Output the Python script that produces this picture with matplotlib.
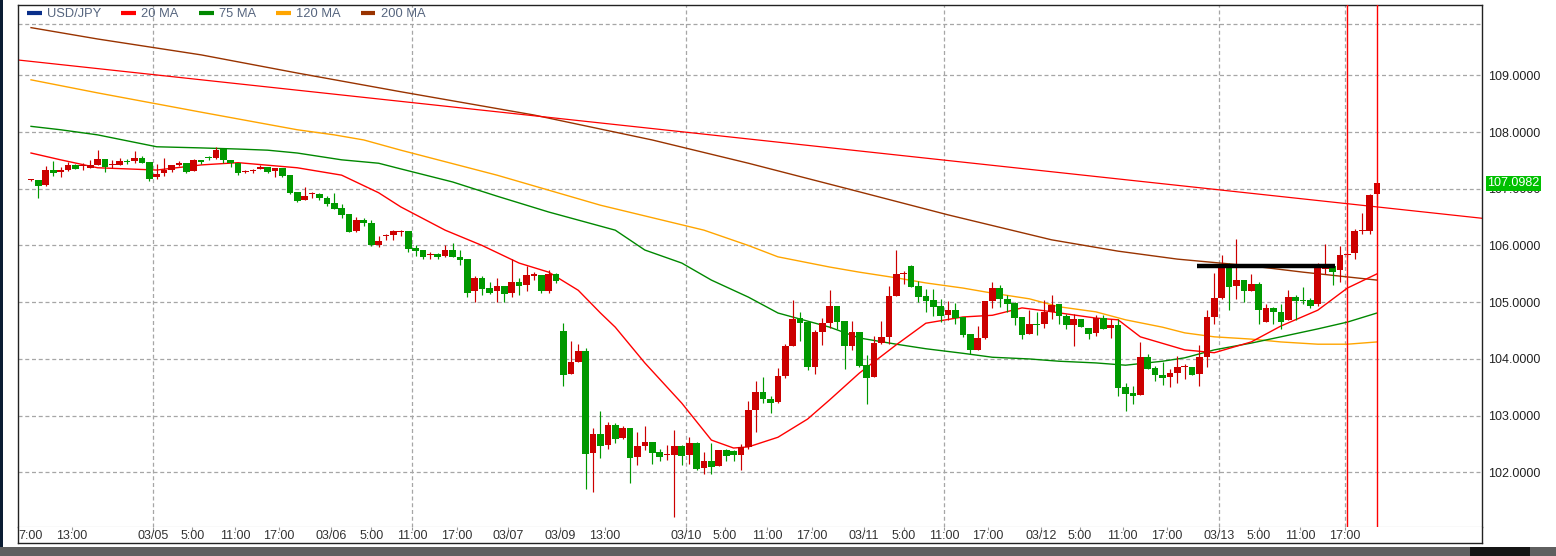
import numpy as np
import matplotlib
matplotlib.use("Agg")
import matplotlib.pyplot as plt
from matplotlib.lines import Line2D
from matplotlib.patches import Rectangle
import matplotlib.transforms as mtransforms

plt.rcParams['font.family'] = ['Liberation Sans', 'DejaVu Sans']

# hourly USD/JPY candles, index 0 = 03/04 7:00
opens = [107.15, 107.15, 107.07, 107.33, 107.30, 107.33, 107.42, 107.40, 107.37, 107.42,
         107.53, 107.41, 107.42, 107.49, 107.49, 107.54, 107.47, 107.20, 107.27, 107.33,
         107.42, 107.46, 107.32, 107.50, 107.545, 107.55, 107.70, 107.51, 107.45, 107.30,
         107.32, 107.34, 107.38, 107.32, 107.37, 107.24, 106.94, 106.81, 106.91, 106.91,
         106.83, 106.75, 106.66, 106.56, 106.26, 106.45, 106.40, 106.01, 106.17, 106.19,
         106.24, 106.26, 105.96, 105.92, 105.84, 105.85, 105.81, 105.92, 105.79, 105.76,
         105.19, 105.43, 105.25, 105.19, 105.29, 105.17, 105.36, 105.30, 105.47, 105.48,
         105.20, 105.50, 104.49, 103.74, 103.94, 104.14, 102.34, 102.68, 102.48, 102.84,
         102.60, 102.78, 102.27, 102.47, 102.54, 102.36, 102.30, 102.31, 102.47, 102.31,
         102.52, 102.08, 102.20, 102.11, 102.40, 102.38, 102.31, 102.44, 103.10, 103.42,
         103.30, 103.24, 103.70, 104.23, 104.72, 104.65, 103.86, 104.48, 104.64, 104.93,
         104.67, 104.23, 104.48, 103.89, 103.69, 104.28, 104.39, 105.11, 105.50, 105.64,
         105.29, 105.11, 105.04, 104.93, 104.78, 104.86, 104.74, 104.44, 104.16, 104.37,
         105.02, 105.25, 105.05, 104.99, 104.74, 104.44, 104.62, 104.62, 104.82, 104.96,
         104.76, 104.60, 104.70, 104.55, 104.46, 104.73, 104.55, 104.59, 103.51, 103.40,
         103.37, 104.03, 103.84, 103.72, 103.68, 103.76, 103.85, 103.86, 103.74, 104.03,
         104.74, 105.08, 105.67, 105.29, 105.39, 105.20, 105.32, 104.66, 104.90, 104.83,
         104.68, 105.09, 105.04, 105.04, 104.96, 105.59, 105.63, 105.56, 105.84, 105.86,
         106.25, 106.26, 106.90]
highs = [107.18, 107.15, 107.40, 107.49, 107.38, 107.48, 107.43, 107.45, 107.51, 107.68,
         107.53, 107.51, 107.54, 107.53, 107.67, 107.57, 107.47, 107.44, 107.54, 107.42,
         107.49, 107.46, 107.52, 107.50, 107.58, 107.73, 107.70, 107.51, 107.45, 107.33,
         107.35, 107.42, 107.38, 107.37, 107.37, 107.24, 106.95, 107.03, 106.94, 106.93,
         106.87, 106.93, 106.74, 106.56, 106.50, 106.48, 106.45, 106.17, 106.20, 106.28,
         106.27, 106.26, 106.01, 105.92, 105.88, 105.86, 106.00, 106.04, 105.92, 105.76,
         105.46, 105.46, 105.35, 105.43, 105.29, 105.76, 105.43, 105.64, 105.54, 105.48,
         105.56, 105.51, 104.63, 104.32, 104.26, 104.19, 102.78, 103.08, 102.89, 102.87,
         102.82, 102.78, 102.71, 102.82, 102.54, 102.41, 102.48, 102.75, 102.48, 102.62,
         102.54, 102.36, 102.52, 102.40, 102.41, 102.40, 102.50, 103.26, 103.61, 103.68,
         103.34, 103.84, 104.26, 105.04, 104.82, 104.65, 104.51, 104.73, 105.22, 104.93,
         104.67, 104.67, 104.48, 104.07, 104.40, 104.67, 105.29, 105.92, 105.55, 105.66,
         105.37, 105.23, 105.23, 105.05, 105.02, 104.99, 104.74, 104.44, 104.58, 105.02,
         105.35, 105.30, 105.13, 105.00, 104.74, 104.86, 104.82, 105.04, 105.13, 104.96,
         104.80, 104.80, 104.70, 104.55, 104.78, 104.78, 104.70, 104.70, 103.57, 103.52,
         104.30, 104.09, 103.88, 103.95, 103.82, 104.05, 103.91, 103.86, 104.25, 104.86,
         105.51, 105.84, 105.70, 106.12, 105.39, 105.50, 105.36, 104.96, 104.92, 104.96,
         105.22, 105.13, 105.27, 105.07, 105.69, 106.03, 105.66, 105.99, 105.86, 106.29,
         106.57, 106.91, 107.11]
lows = [107.13, 106.84, 107.04, 107.23, 107.20, 107.32, 107.34, 107.33, 107.37, 107.42,
        107.30, 107.37, 107.42, 107.44, 107.45, 107.45, 107.14, 107.17, 107.23, 107.30,
        107.40, 107.28, 107.32, 107.44, 107.51, 107.52, 107.45, 107.38, 107.24, 107.28,
        107.28, 107.34, 107.27, 107.20, 107.21, 106.90, 106.77, 106.81, 106.83, 106.81,
        106.70, 106.64, 106.49, 106.23, 106.23, 106.35, 105.99, 105.98, 106.09, 106.09,
        106.16, 105.89, 105.82, 105.77, 105.77, 105.76, 105.80, 105.79, 105.66, 105.10,
        105.00, 105.12, 105.15, 105.00, 105.00, 105.10, 105.13, 105.20, 105.39, 105.17,
        105.17, 105.34, 103.53, 103.74, 103.94, 101.71, 101.66, 102.26, 102.41, 102.52,
        102.59, 101.81, 102.13, 102.40, 102.15, 102.20, 102.22, 101.21, 102.13, 102.15,
        102.04, 101.98, 101.98, 102.11, 102.20, 102.20, 102.04, 102.42, 102.71, 103.22,
        103.05, 103.22, 103.66, 104.22, 104.31, 103.81, 103.74, 104.25, 104.54, 104.52,
        103.83, 104.16, 103.86, 103.21, 103.69, 104.26, 104.26, 105.11, 105.32, 105.27,
        105.01, 104.82, 104.76, 104.66, 104.69, 104.62, 104.38, 104.09, 104.16, 104.36,
        104.89, 104.92, 104.83, 104.60, 104.36, 104.44, 104.42, 104.55, 104.71, 104.62,
        104.52, 104.23, 104.57, 104.36, 104.41, 104.53, 104.37, 103.34, 103.09, 103.21,
        103.37, 103.83, 103.61, 103.54, 103.51, 103.58, 103.65, 103.71, 103.53, 103.86,
        104.62, 105.05, 104.87, 105.05, 105.01, 105.20, 104.62, 104.66, 104.62, 104.52,
        104.68, 104.68, 104.96, 104.89, 104.94, 105.50, 105.31, 105.35, 105.80, 105.77,
        106.21, 106.21, 106.74]
closes = [107.16, 107.05, 107.33, 107.28, 107.33, 107.42, 107.35, 107.41, 107.42, 107.53,
          107.38, 107.42, 107.49, 107.48, 107.54, 107.46, 107.18, 107.26, 107.33, 107.42,
          107.46, 107.30, 107.51, 107.47, 107.535, 107.68, 107.50, 107.45, 107.28, 107.31,
          107.33, 107.38, 107.30, 107.37, 107.23, 106.93, 106.79, 106.88, 106.93, 106.83,
          106.74, 106.64, 106.54, 106.24, 106.45, 106.39, 106.00, 106.08, 106.18, 106.25,
          106.25, 105.94, 105.91, 105.80, 105.85, 105.80, 105.92, 105.79, 105.74, 105.17,
          105.43, 105.24, 105.17, 105.29, 105.15, 105.36, 105.29, 105.48, 105.49, 105.19,
          105.50, 105.38, 103.72, 103.95, 104.14, 102.33, 102.68, 102.47, 102.84, 102.59,
          102.78, 102.25, 102.47, 102.54, 102.34, 102.27, 102.31, 102.47, 102.29, 102.52,
          102.06, 102.20, 102.10, 102.40, 102.29, 102.30, 102.44, 103.10, 103.42, 103.29,
          103.23, 103.70, 104.23, 104.70, 104.63, 103.85, 104.48, 104.63, 104.93, 104.66,
          104.22, 104.48, 103.88, 103.67, 104.28, 104.39, 105.11, 105.50, 105.51, 105.27,
          105.10, 105.03, 104.92, 104.76, 104.86, 104.73, 104.43, 104.15, 104.37, 105.02,
          105.25, 105.05, 104.97, 104.73, 104.42, 104.62, 104.60, 104.83, 104.95, 104.75,
          104.59, 104.70, 104.57, 104.44, 104.73, 104.53, 104.59, 103.49, 103.38, 103.35,
          104.03, 103.83, 103.71, 103.67, 103.75, 103.86, 103.86, 103.72, 104.03, 104.74,
          105.07, 105.66, 105.27, 105.39, 105.19, 105.32, 104.87, 104.90, 104.82, 104.66,
          105.09, 105.03, 105.03, 104.94, 105.60, 105.61, 105.54, 105.83, 105.85, 106.26,
          106.26, 106.89, 107.0982]

# moving averages read at sample candles
ma20_x = [0, 4, 9, 17, 23, 28, 36, 42, 47, 50, 56, 61, 66, 70, 74, 77, 79, 83, 88, 92, 95,
          97, 101, 105, 108, 112, 117, 121, 126, 130, 134, 137, 144, 147, 150, 156, 160,
          165, 169, 174, 178, 182]
ma20_y = [107.63, 107.51, 107.37, 107.33, 107.42, 107.46, 107.37, 107.24, 106.93, 106.68,
          106.27, 106.00, 105.69, 105.53, 105.21, 104.81, 104.56, 103.93, 103.22, 102.57,
          102.43, 102.45, 102.62, 102.94, 103.28, 103.75, 104.25, 104.63, 104.74, 104.77,
          104.90, 104.85, 104.72, 104.69, 104.39, 104.16, 104.11, 104.30, 104.58, 104.86,
          105.25, 105.50]
ma75_x = [0, 4, 9, 17, 23, 28, 32, 36, 42, 47, 50, 57, 63, 70, 79, 83, 88, 92, 97, 101,
          108, 112, 117, 121, 126, 130, 135, 139, 144, 148, 153, 156, 160, 165, 169, 174,
          178, 182]
ma75_y = [108.10, 108.04, 107.95, 107.74, 107.72, 107.70, 107.68, 107.63, 107.51, 107.45,
          107.35, 107.12, 106.87, 106.59, 106.27, 105.92, 105.69, 105.39, 105.09, 104.81,
          104.56, 104.37, 104.26, 104.18, 104.10, 104.03, 104.00, 103.96, 103.93, 103.89,
          103.96, 104.02, 104.16, 104.28, 104.39, 104.53, 104.65, 104.81]
ma120_x = [0, 9, 23, 36, 41, 45, 50, 63, 77, 91, 97, 101, 108, 112, 117, 121, 126, 130,
           135, 139, 144, 148, 153, 156, 160, 165, 169, 174, 178, 182]
ma120_y = [108.92, 108.69, 108.35, 108.04, 107.95, 107.86, 107.68, 107.24, 106.71, 106.27,
           106.00, 105.80, 105.62, 105.53, 105.43, 105.34, 105.25, 105.16, 105.06, 104.92,
           104.83, 104.69, 104.56, 104.46, 104.39, 104.35, 104.30, 104.26, 104.26, 104.30]
ma200_x = [0, 9, 23, 36, 50, 68, 84, 97, 111, 124, 138, 147, 155, 165, 172, 182]
ma200_y = [109.84, 109.64, 109.36, 109.04, 108.71, 108.30, 107.86, 107.45, 106.98, 106.54,
           106.10, 105.90, 105.76, 105.64, 105.53, 105.39]

# drawn objects
trend_pts = [(0, 109.245), (182, 106.68)]
resist_level = 105.63
resist_span = (157.7, 176.3)
marker_lines = [178, 182]
last_price = 107.0982

# x axis labels (candle positions)
tick_pos = [0, 5.5, 16.5, 21.8, 27.6, 33.5, 40.6, 46.0, 51.5, 57.6, 64.5, 71.5, 77.6,
            88.6, 93.8, 99.5, 105.6, 112.6, 118.0, 123.5, 129.4, 136.6, 141.8, 147.6,
            153.6, 160.6, 166.0, 171.6, 177.7]
tick_lab = ['7:00', '13:00', '03/05', '5:00', '11:00', '17:00', '03/06', '5:00', '11:00',
            '17:00', '03/07', '03/09', '13:00', '03/10', '5:00', '11:00', '17:00', '03/11',
            '5:00', '11:00', '17:00', '03/12', '5:00', '11:00', '17:00', '03/13', '5:00',
            '11:00', '17:00']
vgrid = [16.5, 51.5, 88.6, 123.5, 160.6, 177.7]
price_ticks = [102, 103, 104, 105, 106, 107, 108, 109]
hgrid = price_ticks + [109.9]

W, H = 1556, 556
fig = plt.figure(figsize=(W / 100, H / 100), dpi=100)
fig.patch.set_facecolor('white')
L, R, T, B, S = 18, 1482, 5, 527, 543
ax = fig.add_axes([L / W, (H - B) / H, (R - L) / W, (B - T) / H])
ax2 = fig.add_axes([L / W, (H - S) / H, (R - L) / W, (S - B) / H], sharex=ax)

ax.set_xlim(-1.76, 196.2)
ax.set_ylim(101.038, 110.239)

# grid
for g in hgrid:
    ax.axhline(g, color='#a6a6a6', lw=0.9, dashes=(3.2, 2.2), zorder=0)
for g in vgrid:
    ax.axvline(g, color='#a6a6a6', lw=0.9, dashes=(3.2, 2.2), zorder=0)

# candles: red up, green down
o = np.array(opens); h = np.array(highs); lo = np.array(lows); c = np.array(closes)
idx = np.arange(len(o))
cols = np.where(c >= o, '#cc0000', '#009900')
ax.vlines(idx, lo, h, colors=cols, lw=0.85, zorder=3)
body = np.maximum(np.abs(c - o), 0.018)
ax.bar(idx, body, bottom=np.minimum(o, c), width=0.9, color=cols, lw=0, zorder=4)

# moving averages
ax.plot(ma200_x, ma200_y, color='#993300', lw=1.0, zorder=2)
ax.plot(ma120_x, ma120_y, color='#ffa500', lw=1.0, zorder=2)
ax.plot(ma75_x, ma75_y, color='#008800', lw=1.0, zorder=2)
ax.plot(ma20_x, ma20_y, color='#ff0000', lw=1.0, zorder=2)

# trend line, resistance, markers
ax.axline(trend_pts[0], trend_pts[1], color='#ff0000', lw=0.9, zorder=2)
ax.hlines(resist_level, *resist_span, color='black', lw=3.2, zorder=5)
for m in marker_lines:
    ax.axvline(m, color='#ff0000', lw=1.0, zorder=6)

# axes styling
for side in ['left', 'top', 'right']:
    ax.spines[side].set_color('#222222')
    ax.spines[side].set_linewidth(1.0)
ax.spines['bottom'].set_color('#a0a0a0')
ax.yaxis.tick_right()
ax.set_yticks(price_ticks)
ax.set_yticklabels([f'{p:.4f}' for p in price_ticks])
ax.tick_params(axis='y', length=0, pad=4.5, labelsize=9, labelcolor='#222222')
ax.tick_params(axis='x', bottom=False, labelbottom=False)

# last price tag
ax.text(1.0035, last_price, f'{last_price:.4f}', transform=ax.get_yaxis_transform(),
        ha='left', va='center', fontsize=9, color='white', zorder=10, clip_on=False,
        bbox=dict(boxstyle='square,pad=0.12', fc='#00c000', ec='none'))

# legend
names = ['USD/JPY', '20 MA', '75 MA', '120 MA', '200 MA']
lcols = ['#0a2f8a', '#ff0000', '#008800', '#ffa500', '#993300']
handles = [Line2D([], [], color=cl, lw=3.0, solid_capstyle='butt') for cl in lcols]
leg = ax.legend(handles, names, loc='upper left', bbox_to_anchor=(9 / (R - L), 1 - 3 / (B - T)),
                ncol=5, frameon=False, fontsize=9.3, handlelength=1.15, handletextpad=0.4,
                columnspacing=1.55, borderpad=0, borderaxespad=0)
for t in leg.get_texts():
    t.set_color('#56657e')

# time strip
ax2.set_ylim(0, 1)
ax2.set_yticks([])
ax2.tick_params(axis='x', bottom=False, labelbottom=False)
ax2.spines['top'].set_visible(False)
for side in ['left', 'right', 'bottom']:
    ax2.spines[side].set_color('#222222')
    ax2.spines[side].set_linewidth(1.0)
tr = mtransforms.blended_transform_factory(ax2.transData, ax2.transAxes)
for p, lab in zip(tick_pos, tick_lab):
    ax2.text(p, 0.42, lab, transform=tr, ha='center', va='center', fontsize=9,
             color='#333333')
ax2.vlines(tick_pos[1:], 0.8, 1.0, transform=tr, colors='#9a9a9a', lw=0.8)

# screenshot chrome: bottom scroller and left edge
fig.patches.append(Rectangle((0, 0), 1, 9 / H, transform=fig.transFigure,
                             fc='#5f5f5f', ec='none'))
fig.patches.append(Rectangle((1470 / W, 0), 60 / W, 9 / H, transform=fig.transFigure,
                             fc='#151515', ec='none'))
fig.patches.append(Rectangle((0, 9 / H), 3 / W, 1, transform=fig.transFigure,
                             fc='#0b1d33', ec='none'))

fig.savefig('out.png', dpi=100, facecolor='white')
